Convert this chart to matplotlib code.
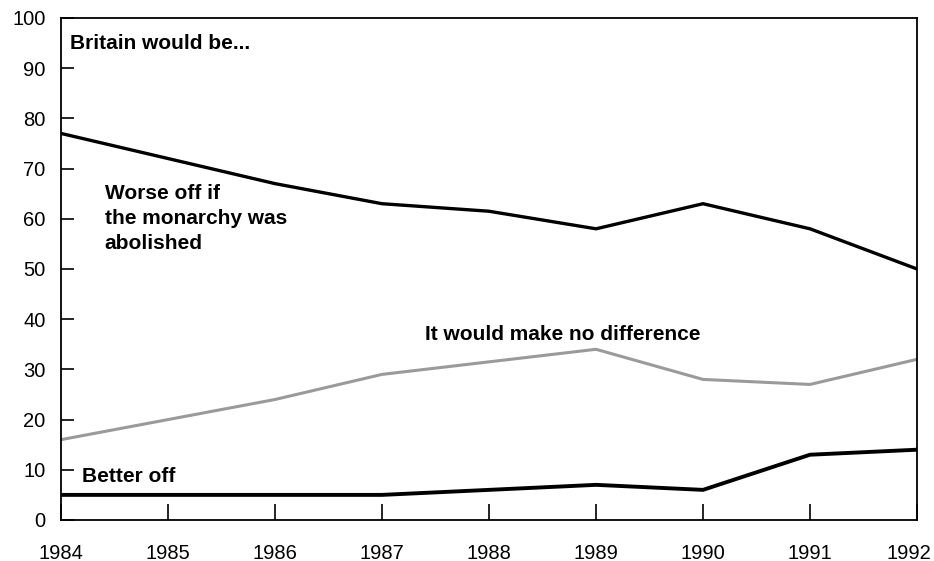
import matplotlib.pyplot as plt
import matplotlib.transforms as mtransforms

plt.rcParams['font.family'] = ['Liberation Sans', 'DejaVu Sans']

# Data (% of respondents)
years = [1984, 1985, 1986, 1987, 1988, 1989, 1990, 1991, 1992]
worse_off = [77, 72, 67, 63, 61.5, 58, 63, 58, 50]
no_difference = [16, 20, 24, 29, 31.5, 34, 28, 27, 32]
better_off = [5, 5, 5, 5, 6, 7, 6, 13, 14]

fig = plt.figure(figsize=(9.34, 5.61), dpi=100)
ax = fig.add_axes([0.0653, 0.0731, 0.9165, 0.8949])

ax.plot(years, worse_off, color='black', lw=2.4, solid_joinstyle='round')
ax.plot(years, no_difference, color='#9a9a9a', lw=2.2, solid_joinstyle='round')
ax.plot(years, better_off, color='black', lw=2.8, solid_joinstyle='round')

ax.set_xlim(1984, 1992)
ax.set_ylim(0, 100)
ax.set_xticks(years)
ax.set_yticks(range(0, 101, 10))

for s in ax.spines.values():
    s.set_linewidth(1.3)

ax.tick_params(axis='y', direction='in', length=9, width=1.2, pad=11, labelsize=14.5)
ax.tick_params(axis='x', direction='in', length=11.5, width=1.2, pad=17, labelsize=14.5)

# nudge the last year label left so it stays on the canvas
last = ax.get_xticklabels()[-1]
last.set_transform(last.get_transform() +
                   mtransforms.ScaledTranslation(-6 / 72, 0, fig.dpi_scale_trans))

# Series labels
ax.text(1984.08, 95, 'Britain would be...', fontsize=15, fontweight='bold', va='center')
ax.text(1984.41, 60, 'Worse off if\nthe monarchy was\nabolished', fontsize=15,
        fontweight='bold', va='center', linespacing=1.4)
ax.text(1987.40, 36.9, 'It would make no difference', fontsize=15, fontweight='bold', va='center')
ax.text(1984.2, 8.6, 'Better off', fontsize=15, fontweight='bold', va='center')

fig.savefig('out.png', dpi=100)
